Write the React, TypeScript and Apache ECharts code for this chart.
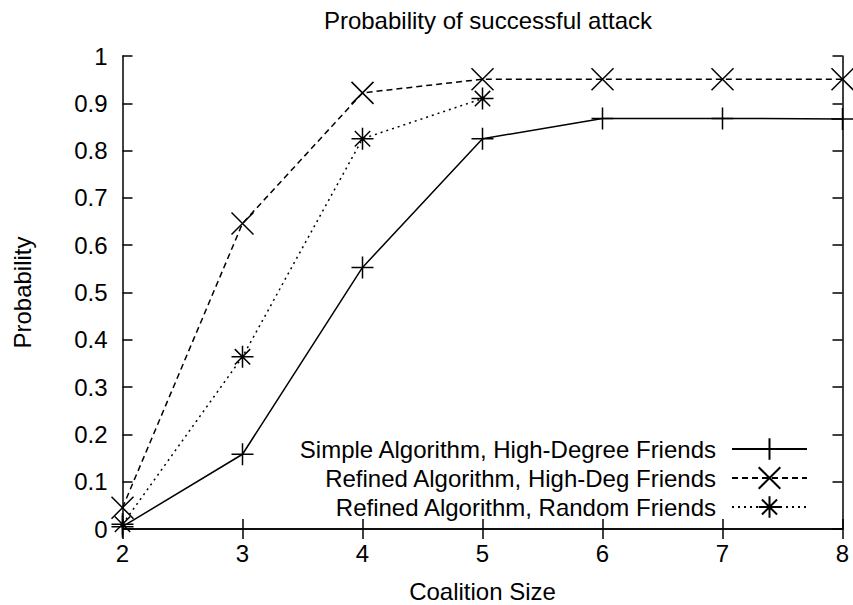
import React, { useEffect, useRef } from "react";
import * as echarts from "echarts";

const coalitionSizes = [2, 3, 4, 5, 6, 7, 8];
const simpleHighDegree = [0.005, 0.158, 0.553, 0.825, 0.868, 0.868, 0.867];
const refinedHighDeg = [0.045, 0.646, 0.922, 0.951, 0.951, 0.951, 0.951];
const refinedRandom = [0.01, 0.364, 0.825, 0.91];
const seriesNames = [
  "Simple Algorithm, High-Degree Friends",
  "Refined Algorithm, High-Deg Friends",
  "Refined Algorithm, Random Friends",
];

const PLUS = "path://M0,10L20,10M10,0L10,20";
const CROSS = "path://M0,0L20,20M20,0L0,20";
const STAR = "path://M0,10L20,10M10,0L10,20M3,3L17,17M17,3L3,17";

const FONT = "Liberation Sans";
const FS = 24;

export default function App() {
  const ref = useRef<HTMLDivElement>(null);
  useEffect(() => {
    if (!ref.current) return;
    const chart = echarts.init(ref.current, undefined, { renderer: "svg" });
    const pairs = (vals: number[]) => vals.map((v, i) => [coalitionSizes[i], v]);
    const mk = (name: string, vals: number[], symbol: string, type: any) => ({
      name,
      type: "line",
      data: pairs(vals),
      symbol,
      symbolSize: 22,
      clip: false,
      lineStyle: { color: "#000", width: 1.5, type },
      itemStyle: { color: "transparent", borderColor: "#000", borderWidth: 1.5 },
      emphasis: { disabled: true },
    });
    const axisCommon = {
      type: "value",
      axisLine: { show: true, lineStyle: { color: "#000", width: 1.5 } },
      axisTick: { show: true, inside: true, length: 10, lineStyle: { color: "#000", width: 1.5 } },
      splitLine: { show: false },
    };
    chart.setOption({
      animation: false,
      textStyle: { fontFamily: FONT, color: "#000" },
      title: {
        text: "Probability of successful attack",
        left: 483,
        top: 3,
        textAlign: "center",
        textStyle: { fontFamily: FONT, fontSize: FS, fontWeight: "normal", color: "#000" },
      },
      grid: {
        left: 122.5,
        top: 56,
        width: 720,
        height: 473,
        containLabel: false,
        outerBoundsMode: "none",
      },
      legend: {
        orient: "vertical",
        right: 40,
        top: 432,
        align: "right",
        itemWidth: 75,
        itemHeight: 27,
        itemGap: 5,
        selectedMode: false,
        data: seriesNames,
        textStyle: { fontFamily: FONT, fontSize: FS, color: "#000", padding: [0, 11, 0, 0] },
      },
      xAxis: [
        {
          ...axisCommon,
          min: 2,
          max: 8,
          interval: 1,
          position: "bottom",
          name: "Coalition Size",
          nameLocation: "middle",
          nameGap: 50,
          nameTextStyle: { fontFamily: FONT, fontSize: FS, color: "#000" },
          axisLabel: { fontFamily: FONT, fontSize: FS, color: "#000", margin: 12 },
        },
        {
          ...axisCommon,
          min: 2,
          max: 8,
          interval: 1,
          position: "top",
          axisLabel: { show: false },
        },
      ],
      yAxis: [
        {
          ...axisCommon,
          min: 0,
          max: 1,
          interval: 0.1,
          position: "left",
          name: "Probability",
          nameLocation: "middle",
          nameGap: 88,
          nameRotate: 90,
          nameTextStyle: { fontFamily: FONT, fontSize: FS, color: "#000" },
          axisLabel: { fontFamily: FONT, fontSize: FS, color: "#000", margin: 15 },
        },
        {
          ...axisCommon,
          min: 0,
          max: 1,
          interval: 0.1,
          position: "right",
          axisLabel: { show: false },
        },
      ],
      series: [
        mk(seriesNames[0], simpleHighDegree, PLUS, "solid"),
        mk(seriesNames[1], refinedHighDeg, CROSS, [6, 4]),
        mk(seriesNames[2], refinedRandom, STAR, [2, 4]),
      ],
    });
    return () => chart.dispose();
  }, []);
  return (
    <div
      ref={ref}
      style={{ position: "fixed", left: 0, top: 0, width: 853, height: 605, background: "#fff" }}
    />
  );
}
